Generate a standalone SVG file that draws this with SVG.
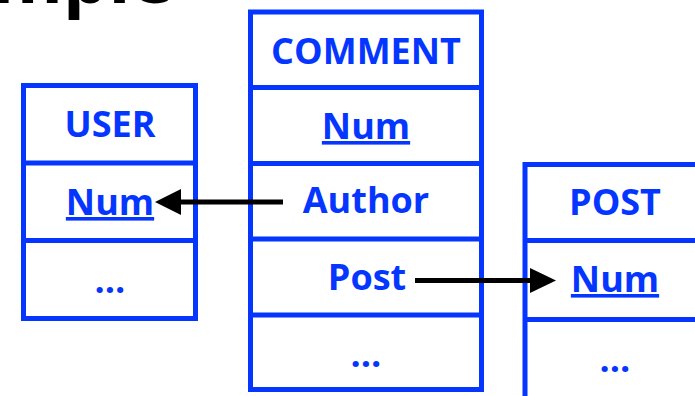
<svg xmlns="http://www.w3.org/2000/svg" width="695" height="396" viewBox="0 0 695 396">
  <style>
    .box { fill: #ffffff; stroke: #0536ff; stroke-width: 5; }
    .sep { stroke: #0536ff; stroke-width: 5; }
    .lbl { font-family: "Open Sans", "Liberation Sans", sans-serif; font-weight: 700; font-size: 36px; fill: #0536ff; text-anchor: middle; }
    .key { text-decoration: underline; }
    .title { font-family: "Open Sans", "Liberation Sans", sans-serif; font-weight: 700; font-size: 72px; fill: #000000; text-anchor: end; }
    .link { stroke: #000000; stroke-width: 5; fill: none; }
  </style>
  <defs>
    <marker id="head" viewBox="0 0 10 10" refX="9" refY="5" markerWidth="5" markerHeight="5" markerUnits="strokeWidth" orient="auto">
      <path d="M0,0 L10,5 L0,10 Z" fill="#000000"/>
    </marker>
  </defs>

  <rect width="695" height="396" fill="#ffffff"/>

  <!-- slide heading, mostly above the top edge -->
  <text class="title" x="173" y="3">Example</text>

  <g id="user">
    <rect class="box" x="23.5" y="85.5" width="172" height="233"/>
    <line class="sep" x1="23.5" y1="163" x2="195.5" y2="163"/>
    <line class="sep" x1="23.5" y1="240.5" x2="195.5" y2="240.5"/>
    <text class="lbl" x="110" y="137">USER</text>
    <text class="lbl key" x="110" y="215">Num</text>
    <text class="lbl" x="110" y="293">…</text>
  </g>

  <g id="comment">
    <rect class="box" x="250.5" y="12" width="231" height="377.5"/>
    <line class="sep" x1="250.5" y1="87.5" x2="481.5" y2="87.5"/>
    <line class="sep" x1="250.5" y1="163.5" x2="481.5" y2="163.5"/>
    <line class="sep" x1="250.5" y1="239" x2="481.5" y2="239"/>
    <line class="sep" x1="250.5" y1="315" x2="481.5" y2="315"/>
    <text class="lbl" x="366" y="64">COMMENT</text>
    <text class="lbl key" x="366" y="139">Num</text>
    <text class="lbl" x="366" y="213">Author</text>
    <text class="lbl" x="367" y="290">Post</text>
    <text class="lbl" x="366" y="367">…</text>
  </g>

  <g id="post">
    <rect class="box" x="525" y="164.5" width="200" height="250"/>
    <line class="sep" x1="525" y1="240.5" x2="725" y2="240.5"/>
    <line class="sep" x1="525" y1="319.5" x2="725" y2="319.5"/>
    <text class="lbl" x="615" y="215">POST</text>
    <text class="lbl key" x="615" y="292">Num</text>
    <text class="lbl" x="615" y="372">…</text>
  </g>

  <g id="connectors">
    <line class="link" x1="283" y1="202" x2="178" y2="202"/>
    <path d="M155,202 L181,189 L181,215 Z" fill="#000000"/>
    <line class="link" x1="415" y1="280.5" x2="533" y2="280.5"/>
    <path d="M556,280.5 L530,268 L530,293 Z" fill="#000000"/>
  </g>
</svg>
